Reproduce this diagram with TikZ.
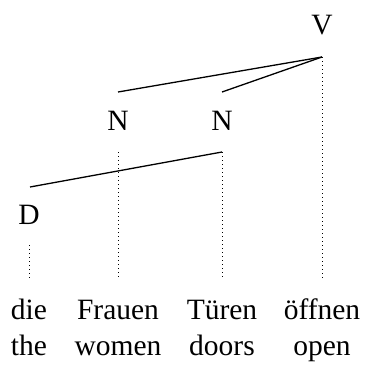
\documentclass[tikz,border=0pt]{standalone}
\usepackage{fontspec}
\setmainfont{Liberation Serif}
\begin{document}
\begin{tikzpicture}[x=1pt,y=-1pt,
  lbl/.style={inner sep=0pt,font=\fontsize{29.5}{32}\selectfont},
  edge/.style={line width=1.3pt},
  proj/.style={line width=1pt,dash pattern=on 1pt off 3pt}]
\useasboundingbox (0,0) rectangle (364,369);
\node[lbl] (V) at (322,25) {V};
\node[lbl] (N1) at (118,121) {N};
\node[lbl] (N2) at (222,121) {N};
\node[lbl] (D) at (29,215) {D};
\coordinate (Vb) at (322,57);
\coordinate (N1t) at (118,92);
\coordinate (N2t) at (222,92);
\coordinate (N2b) at (222,152);
\coordinate (N1b) at (118,152);
\coordinate (Dt) at (30,187);
\coordinate (Db) at (29,245);
\node[lbl,anchor=base] (w1) at (29,319) {die};
\node[lbl,anchor=base] (w2) at (118,319) {Frauen};
\node[lbl,anchor=base] (w3) at (222,319) {Türen};
\node[lbl,anchor=base] (w4) at (322,319) {öffnen};
\node[lbl,anchor=base] (g1) at (29,355) {the};
\node[lbl,anchor=base] (g2) at (118,355) {women};
\node[lbl,anchor=base] (g3) at (222,355) {doors};
\node[lbl,anchor=base] (g4) at (322,355) {open};
\coordinate (w1t) at (29,279);
\coordinate (w2t) at (118,279);
\coordinate (w3t) at (222,279);
\coordinate (w4t) at (322,279);
\draw[edge] (Vb) -- (N1t);
\draw[edge] (Vb) -- (N2t);
\draw[edge] (N2b) -- (Dt);
\draw[proj] (Vb) -- (w4t);
\draw[proj] (N1b) -- (w2t);
\draw[proj] (N2b) -- (w3t);
\draw[proj] (Db) -- (w1t);
\end{tikzpicture}
\end{document}
